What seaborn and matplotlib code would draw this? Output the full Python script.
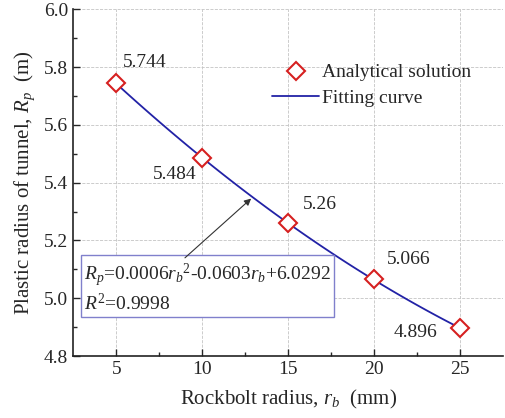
import matplotlib
matplotlib.use("Agg")
import matplotlib.pyplot as plt
import numpy as np
import pandas as pd
import seaborn as sns

# Rockbolt radius (mm) and analytical plastic radius (m)
rb = [5, 10, 15, 20, 25]
rp = [5.744, 5.484, 5.26, 5.066, 4.896]
value_labels = ["5.744", "5.484", "5.26", "5.066", "4.896"]

df = pd.DataFrame({"rb": rb, "rp": rp})

sns.set_theme(style="ticks")
plt.rcParams["font.family"] = ["Liberation Serif", "DejaVu Serif"]
plt.rcParams["mathtext.fontset"] = "custom"
plt.rcParams["mathtext.rm"] = "Liberation Serif"
plt.rcParams["mathtext.it"] = "Liberation Serif:italic"

fig = plt.figure(figsize=(5.05, 4.18), dpi=100)
ax = fig.add_axes([0.145, 0.148, 0.851, 0.83])

# Fitting curve (second order polynomial through seaborn)
sns.regplot(data=df, x="rb", y="rp", order=2, ci=None, scatter=False,
            line_kws={"color": "#2222a6", "lw": 1.3, "zorder": 3},
            label="Fitting curve", ax=ax)
# Analytical solution points
ax.plot(rb, rp, linestyle="none", marker="D", markersize=9,
        markerfacecolor="white", markeredgecolor="#d62020",
        markeredgewidth=1.5, zorder=4, label="Analytical solution")

# Value labels
offsets = [(0.4, 0.07, "left"), (-0.35, -0.057, "right"), (0.85, 0.063, "left"),
           (0.75, 0.067, "left"), (-1.3, -0.013, "right")]
for x, y, lab, (dx, dy, ha) in zip(rb, rp, value_labels, offsets):
    ax.text(x + dx, y + dy, lab, ha=ha, va="center", fontsize=14)

# Fit equation box
ax.text(3.15, 5.035,
        "$R_p$=0.0006$r_b$$^2$-0.0603$r_b$+6.0292\n$R^2$=0.9998",
        ha="left", va="center", fontsize=14, linespacing=1.2,
        bbox=dict(boxstyle="square,pad=0.15", fc="white", ec="#8080cc", lw=1))
ax.annotate("", xy=(12.85, 5.345), xytext=(9.0, 5.14),
            arrowprops=dict(arrowstyle="-|>", color="#333333", lw=0.8,
                            mutation_scale=10, shrinkA=0, shrinkB=0))

ax.set_xlim(2.5, 27.5)
ax.set_ylim(4.8, 6.0)
ax.set_xticks([5, 10, 15, 20, 25])
ax.set_xticks([7.5, 12.5, 17.5, 22.5], minor=True)
ax.set_yticks([4.8, 5.0, 5.2, 5.4, 5.6, 5.8, 6.0])
ax.set_yticks(np.arange(4.9, 6.0, 0.2), minor=True)
ax.set_yticklabels(["4.8", "5.0", "5.2", "5.4", "5.6", "5.8", "6.0"])
ax.tick_params(axis="both", which="both", direction="in", labelsize=14, width=1)
ax.tick_params(which="major", length=5)
ax.tick_params(which="minor", length=3)
ax.grid(True, which="major", linestyle="--", color="#c4c4c4", lw=0.6)
ax.set_axisbelow(True)
sns.despine(ax=ax)
for s in ["left", "bottom"]:
    ax.spines[s].set_linewidth(1.2)
    ax.spines[s].set_color("#222222")

ax.set_xlabel("Rockbolt radius, $r_b$  (mm)", fontsize=15, labelpad=7)
ax.set_ylabel("Plastic radius of tunnel, $R_p$  (m)", fontsize=15, labelpad=5)

handles, labels = ax.get_legend_handles_labels()
order = [labels.index("Analytical solution"), labels.index("Fitting curve")]
ax.legend([handles[i] for i in order], [labels[i] for i in order],
          loc="upper left", bbox_to_anchor=(0.445, 0.865), frameon=False,
          fontsize=14, handlelength=2.4, handletextpad=0.15, borderaxespad=0,
          labelspacing=0.4)

fig.savefig("out.png", dpi=100)
